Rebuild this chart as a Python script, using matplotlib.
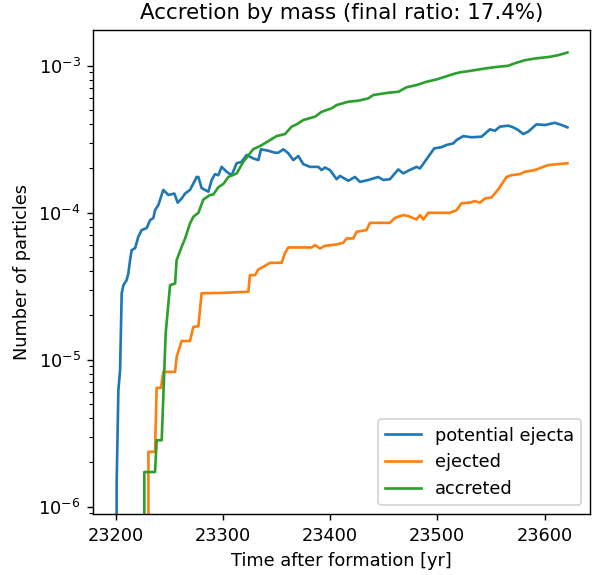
import matplotlib
matplotlib.use("Agg")
import matplotlib.pyplot as plt

# potential ejecta
t_pot = [23200.1, 23201.0, 23202.6, 23204.2, 23205.7, 23207.3, 23210.3, 23211.9, 23213.5, 23215.0,
         23218.2, 23221.2, 23224.3, 23229.0, 23232.2, 23235.2, 23236.8, 23239.9, 23244.5, 23249.2,
         23254.8, 23257.9, 23261.6, 23264.8, 23269.4, 23272.5, 23275.6, 23277.2, 23280.2, 23286.5,
         23289.6, 23292.7, 23295.8, 23298.9, 23303.5, 23308.2, 23312.9, 23317.5, 23322.2, 23328.4,
         23333.1, 23335.6, 23342.4, 23348.6, 23351.7, 23356.4, 23361.0, 23365.7, 23370.4, 23375.0,
         23381.3, 23389.0, 23392.1, 23395.2, 23399.9, 23406.1, 23409.2, 23417.0, 23423.2, 23427.9,
         23435.6, 23444.9, 23449.6, 23455.8, 23463.6, 23468.2, 23472.9, 23480.6, 23483.8, 23491.5,
         23497.1, 23503.9, 23508.6, 23514.8, 23517.9, 23524.2, 23531.9, 23541.2, 23549.0, 23553.7,
         23558.3, 23566.1, 23570.7, 23575.4, 23580.0, 23584.7, 23592.4, 23600.3, 23609.6, 23615.8,
         23621.3]
v_pot = [0, 1.44e-6, 6.2e-6, 8.5e-6, 2.83e-5, 3.21e-5, 3.48e-5, 3.86e-5, 4.75e-5, 5.56e-5,
         5.74e-5, 6.86e-5, 7.62e-5, 7.86e-5, 8.91e-5, 9.19e-5, 1.04e-4, 1.13e-4, 1.43e-4, 1.32e-4,
         1.35e-4, 1.17e-4, 1.25e-4, 1.35e-4, 1.43e-4, 1.58e-4, 1.75e-4, 1.75e-4, 1.47e-4, 1.39e-4,
         1.67e-4, 1.83e-4, 1.80e-4, 2.05e-4, 1.90e-4, 1.80e-4, 2.17e-4, 2.22e-4, 2.47e-4, 2.34e-4,
         2.28e-4, 2.70e-4, 2.64e-4, 2.56e-4, 2.56e-4, 2.70e-4, 2.54e-4, 2.28e-4, 2.43e-4, 2.14e-4,
         2.05e-4, 2.05e-4, 1.95e-4, 2.03e-4, 1.95e-4, 1.69e-4, 1.78e-4, 1.65e-4, 1.75e-4, 1.62e-4,
         1.67e-4, 1.75e-4, 1.67e-4, 1.69e-4, 1.97e-4, 1.85e-4, 1.93e-4, 2.05e-4, 2.00e-4, 2.40e-4,
         2.74e-4, 2.79e-4, 2.89e-4, 2.96e-4, 3.12e-4, 3.32e-4, 3.26e-4, 3.29e-4, 3.69e-4, 3.61e-4,
         3.85e-4, 3.91e-4, 3.81e-4, 3.65e-4, 3.43e-4, 3.56e-4, 3.99e-4, 3.95e-4, 4.09e-4, 3.95e-4,
         3.81e-4]

# ejected
t_ej = [23230.6, 23230.6, 23236.8, 23238.3, 23242.4, 23244.5, 23255.5, 23256.9, 23261.6, 23269.4,
        23272.5, 23277.2, 23280.2, 23302.0, 23323.8, 23325.3, 23330.0, 23333.1, 23337.7, 23344.0,
        23354.8, 23358.0, 23361.0, 23382.8, 23386.0, 23390.6, 23395.2, 23406.1, 23412.3, 23415.4,
        23421.6, 23424.7, 23434.0, 23437.2, 23455.8, 23460.5, 23468.2, 23472.9, 23480.6, 23483.8,
        23486.9, 23491.5, 23511.7, 23517.9, 23522.6, 23530.4, 23535.0, 23539.7, 23544.4, 23550.5,
        23556.8, 23564.5, 23569.2, 23577.0, 23581.6, 23591.0, 23597.1, 23603.4, 23612.7, 23621.3]
v_ej = [0, 2.36e-6, 2.36e-6, 6.43e-6, 6.43e-6, 8.26e-6, 8.26e-6, 1.04e-5, 1.34e-5, 1.34e-5,
        1.67e-5, 1.69e-5, 2.83e-5, 2.85e-5, 2.90e-5, 3.76e-5, 3.76e-5, 4.11e-5, 4.28e-5, 4.56e-5,
        4.56e-5, 5.33e-5, 5.80e-5, 5.80e-5, 6.02e-5, 5.71e-5, 5.95e-5, 6.08e-5, 6.24e-5, 6.68e-5,
        6.68e-5, 7.41e-5, 7.62e-5, 8.53e-5, 8.53e-5, 9.23e-5, 9.63e-5, 9.48e-5, 9.00e-5, 9.63e-5,
        9.00e-5, 9.98e-5, 9.98e-5, 1.04e-4, 1.16e-4, 1.17e-4, 1.20e-4, 1.17e-4, 1.25e-4, 1.27e-4,
        1.44e-4, 1.75e-4, 1.80e-4, 1.83e-4, 1.90e-4, 1.95e-4, 2.03e-4, 2.11e-4, 2.14e-4, 2.17e-4]

# accreted
t_acc = [23226.8, 23226.8, 23236.8, 23238.3, 23243.0, 23246.7, 23250.8, 23255.5, 23256.9, 23261.6,
         23264.8, 23269.4, 23272.5, 23277.2, 23281.8, 23288.1, 23291.1, 23295.8, 23300.5, 23305.1,
         23312.9, 23319.1, 23328.4, 23334.7, 23344.0, 23350.1, 23358.0, 23364.1, 23368.8, 23375.0,
         23385.9, 23392.1, 23401.4, 23406.1, 23417.0, 23426.3, 23435.6, 23440.3, 23454.3, 23463.6,
         23471.3, 23480.6, 23489.9, 23499.3, 23507.1, 23514.8, 23521.1, 23531.9, 23541.2, 23552.1,
         23566.1, 23572.3, 23581.6, 23591.0, 23605.0, 23612.7, 23621.3]
v_acc = [0, 1.72e-6, 1.72e-6, 2.83e-6, 2.83e-6, 1.51e-5, 3.21e-5, 3.30e-5, 4.75e-5, 5.86e-5,
         6.68e-5, 8.45e-5, 9.38e-5, 9.98e-5, 1.23e-4, 1.32e-4, 1.33e-4, 1.49e-4, 1.57e-4, 1.75e-4,
         1.85e-4, 2.22e-4, 2.71e-4, 2.84e-4, 3.12e-4, 3.32e-4, 3.43e-4, 3.85e-4, 3.99e-4, 4.27e-4,
         4.50e-4, 4.86e-4, 5.13e-4, 5.40e-4, 5.69e-4, 5.78e-4, 6.00e-4, 6.32e-4, 6.55e-4, 6.65e-4,
         7.13e-4, 7.39e-4, 7.78e-4, 8.07e-4, 8.41e-4, 8.78e-4, 9.02e-4, 9.25e-4, 9.50e-4, 9.75e-4,
         1.00e-3, 1.04e-3, 1.09e-3, 1.12e-3, 1.15e-3, 1.18e-3, 1.23e-3]

labels = ["potential ejecta", "ejected", "accreted"]
title = "Accretion by mass (final ratio: 17.4%)"

DPI = 128
fig = plt.figure(figsize=(593 / DPI, 575 / DPI), dpi=DPI)
ax = fig.add_axes([0.157, 0.1056, 0.838, 0.8422])
ax.plot(t_pot, v_pot, color="C0", label=labels[0])
ax.plot(t_ej, v_ej, color="C1", label=labels[1])
ax.plot(t_acc, v_acc, color="C2", label=labels[2])
ax.set_yscale("log")
ax.set_ylim(0.887e-6, 1.75e-3)
ax.set_xlabel("Time after formation [yr]")
ax.set_ylabel("Number of particles")
ax.set_title(title)
ax.legend(loc="lower right")
fig.savefig("out.png", dpi=DPI)
